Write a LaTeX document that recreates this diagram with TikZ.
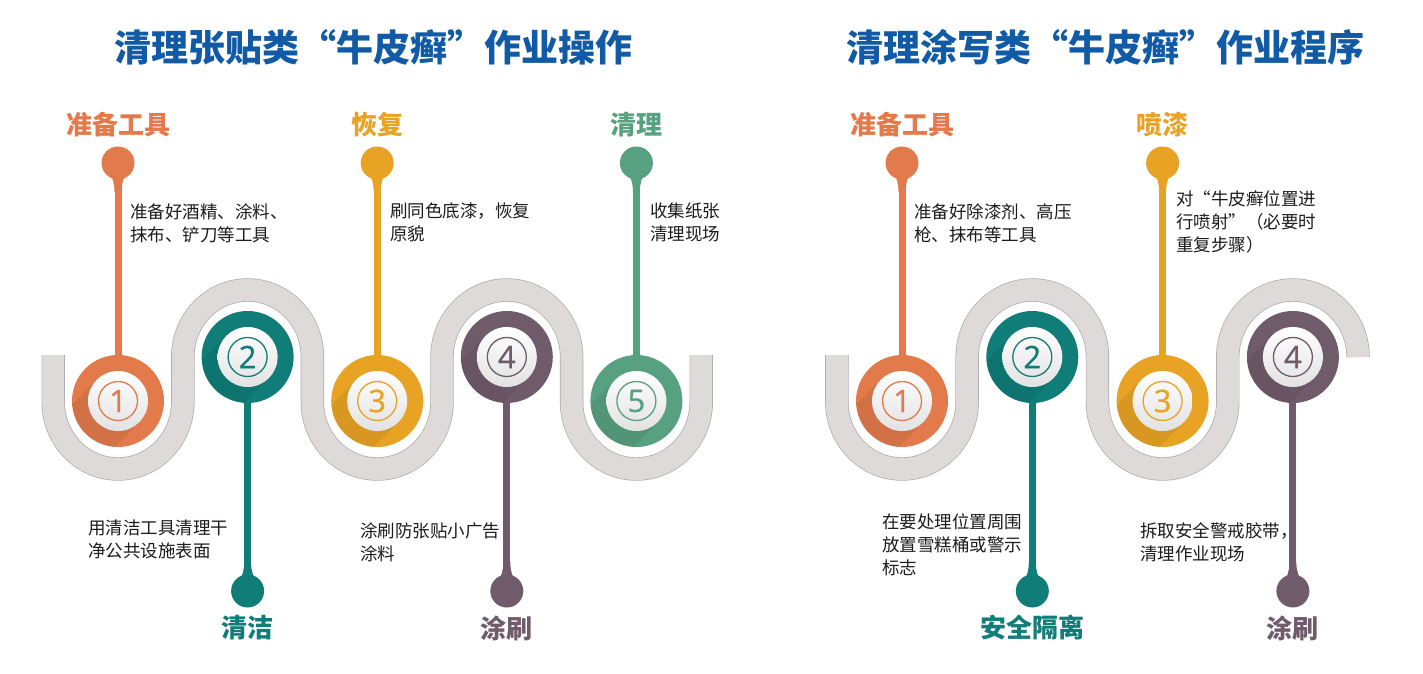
\documentclass[tikz,border=0pt]{standalone}
\usepackage{fontspec}
\newfontfamily\cjk{Noto Sans CJK SC}
\newfontfamily\numfont{Open Sans}[FakeBold=0.8]
\definecolor{titleblue}{RGB}{17,91,166}
\definecolor{corange}{RGB}{226,122,76}
\definecolor{cteal}{RGB}{16,125,120}
\definecolor{cyellow}{RGB}{232,163,36}
\definecolor{cpurple}{RGB}{112,91,106}
\definecolor{cgreen}{RGB}{88,161,128}
\definecolor{bandfill}{RGB}{222,218,218}
\definecolor{bandedge}{RGB}{175,169,169}
\definecolor{diskgray}{RGB}{226,226,226}
\definecolor{textcol}{RGB}{30,27,28}
\tikzset{
  ttl/.style={font=\cjk\bfseries\fontsize{37}{40}\selectfont, text=titleblue, inner sep=0pt},
  lab/.style={font=\cjk\bfseries\fontsize{26}{28}\selectfont, inner sep=0pt},
  body/.style={font=\cjk\fontsize{17.5}{23}\selectfont, text=textcol, align=left, anchor=north west, inner sep=0pt},
  numtext/.style={font=\numfont\fontsize{31}{31}\selectfont, inner sep=0pt},
  disk/.style={circle, minimum size=92pt, inner sep=0pt, draw=none},
  pinhead/.style={circle, minimum size=33pt, inner sep=0pt, draw=none},
  stemline/.style={line width=7pt},
  band/.style={draw=bandedge, line width=0.7pt, double=bandfill, double distance=22pt}
}
\newcommand\mystep[5]{%
  \node[disk, fill=#4] (#1) at (#2,#3) {};
  \begin{scope}
    \clip (#2,#3) circle[radius=46pt];
    \fill[black, opacity=.07] (#2,#3) ++(21.2,21.2) -- ++(-80,80) -- ++(-42.4,-42.4) -- ++(80,-80) -- cycle;
  \end{scope}
  \shade[top color=white, bottom color=diskgray] (#2,#3) circle[radius=30pt];
  \draw[draw=#4, line width=1.3pt] (#2,#3) circle[radius=19.5pt];
  \node[numtext, text=#4] (#1n) at (#2,#3) {#5};
}
\newcommand\mypintop[3]{%
  \node[pinhead, fill=#3] (#1) at (#2,163) {};
  \fill[#3] (#2-12,169) .. controls (#2-5,177) and (#2-3.5,183) .. (#2-3.5,192) -- (#2+3.5,192) .. controls (#2+3.5,183) and (#2+5,177) .. (#2+12,169) -- cycle;
}
\newcommand\mypinbot[3]{%
  \node[pinhead, fill=#3] (#1) at (#2,591) {};
  \fill[#3] (#2-12,585) .. controls (#2-5,577) and (#2-3.5,571) .. (#2-3.5,562) -- (#2+3.5,562) .. controls (#2+3.5,571) and (#2+5,577) .. (#2+12,585) -- cycle;
}
\begin{document}
\begin{tikzpicture}[x=1pt,y=-1pt]
\useasboundingbox (0,0) rectangle (1423,674);
\fill[white] (0,0) rectangle (1423,674);

% titles
\node[ttl] (t1) at (373,47) {清理张贴类“牛皮癣”作业操作};
\node[ttl] (t2) at (1105,47) {清理涂写类“牛皮癣”作业程序};

% snakes
\draw[band] (53.2,355) -- (53.2,402)
  arc[start angle=180, end angle=360, x radius=64.8pt, y radius=67pt] -- (182.8,357)
  arc[start angle=180, end angle=0, x radius=64.8pt, y radius=67pt] -- (312.4,402)
  arc[start angle=180, end angle=360, x radius=64.8pt, y radius=67pt] -- (442,357)
  arc[start angle=180, end angle=0, x radius=64.8pt, y radius=67pt] -- (571.6,402)
  arc[start angle=180, end angle=360, x radius=64.8pt, y radius=67pt] -- (701.2,355);
\draw[band] (836.85,355) -- (836.85,402)
  arc[start angle=180, end angle=360, x radius=65.15pt, y radius=67pt] -- (967.15,357)
  arc[start angle=180, end angle=0, x radius=65.15pt, y radius=67pt] -- (1097.45,402)
  arc[start angle=180, end angle=360, x radius=65.15pt, y radius=67pt] -- (1227.75,357)
  arc[start angle=180, end angle=0, x radius=65.15pt, y radius=67pt];

% left steps
\mystep{L1}{118}{401}{corange}{1}
\mystep{L2}{247.6}{357}{cteal}{2}
\mystep{L3}{377.2}{401}{cyellow}{3}
\mystep{L4}{506.8}{357}{cpurple}{4}
\mystep{L5}{636.4}{401}{cgreen}{5}
\mypintop{P1}{118}{corange}
\mypinbot{P2}{247.6}{cteal}
\mypintop{P3}{377.2}{cyellow}
\mypinbot{P4}{506.8}{cpurple}
\mypintop{P5}{636.4}{cgreen}
\draw[stemline, corange] (P1) -- (L1);
\draw[stemline, cteal] (P2) -- (L2);
\draw[stemline, cyellow] (P3) -- (L3);
\draw[stemline, cpurple] (P4) -- (L4);
\draw[stemline, cgreen] (P5) -- (L5);

% right steps
\mystep{R1}{902}{401}{corange}{1}
\mystep{R2}{1032.3}{357}{cteal}{2}
\mystep{R3}{1162.6}{401}{cyellow}{3}
\mystep{R4}{1292.9}{357}{cpurple}{4}
\mypintop{Q1}{902}{corange}
\mypinbot{Q2}{1032.3}{cteal}
\mypintop{Q3}{1162.6}{cyellow}
\mypinbot{Q4}{1292.9}{cpurple}
\draw[stemline, corange] (Q1) -- (R1);
\draw[stemline, cteal] (Q2) -- (R2);
\draw[stemline, cyellow] (Q3) -- (R3);
\draw[stemline, cpurple] (Q4) -- (R4);

% labels
\node[lab, text=corange] (a1) at (118,125) {准备工具};
\node[lab, text=cteal] (a2) at (247.6,628) {清洁};
\node[lab, text=cyellow] (a3) at (377.2,125) {恢复};
\node[lab, text=cpurple] (a4) at (506.8,628) {涂刷};
\node[lab, text=cgreen] (a5) at (636.4,125) {清理};
\node[lab, text=corange] (b1) at (902,125) {准备工具};
\node[lab, text=cteal] (b2) at (1032.3,628) {安全隔离};
\node[lab, text=cyellow] (b3) at (1162.6,125) {喷漆};
\node[lab, text=cpurple] (b4) at (1292.9,628) {涂刷};

% body texts
\node[body] (d1) at (130,203) {准备好酒精、涂料、\\抹布、铲刀等工具};
\node[body] (d3) at (390,203) {刷同色底漆，恢复\\原貌};
\node[body] (d5) at (650,203) {收集纸张\\清理现场};
\node[body] (d2) at (88,520) {用清洁工具清理干\\净公共设施表面};
\node[body] (d4) at (360,522) {涂刷防张贴小广告\\涂料};
\node[body] (e1) at (914,203) {准备好除漆剂、高压\\枪、抹布等工具};
\node[body] (e3) at (1176,190) {对“牛皮癣位置进\\行喷射”（必要时\\重复步骤）};
\node[body] (e2) at (882,513) {在要处理位置周围\\放置雪糕桶或警示\\标志};
\node[body] (e4) at (1140,522) {拆取安全警戒胶带，\\清理作业现场};
\end{tikzpicture}
\end{document}
